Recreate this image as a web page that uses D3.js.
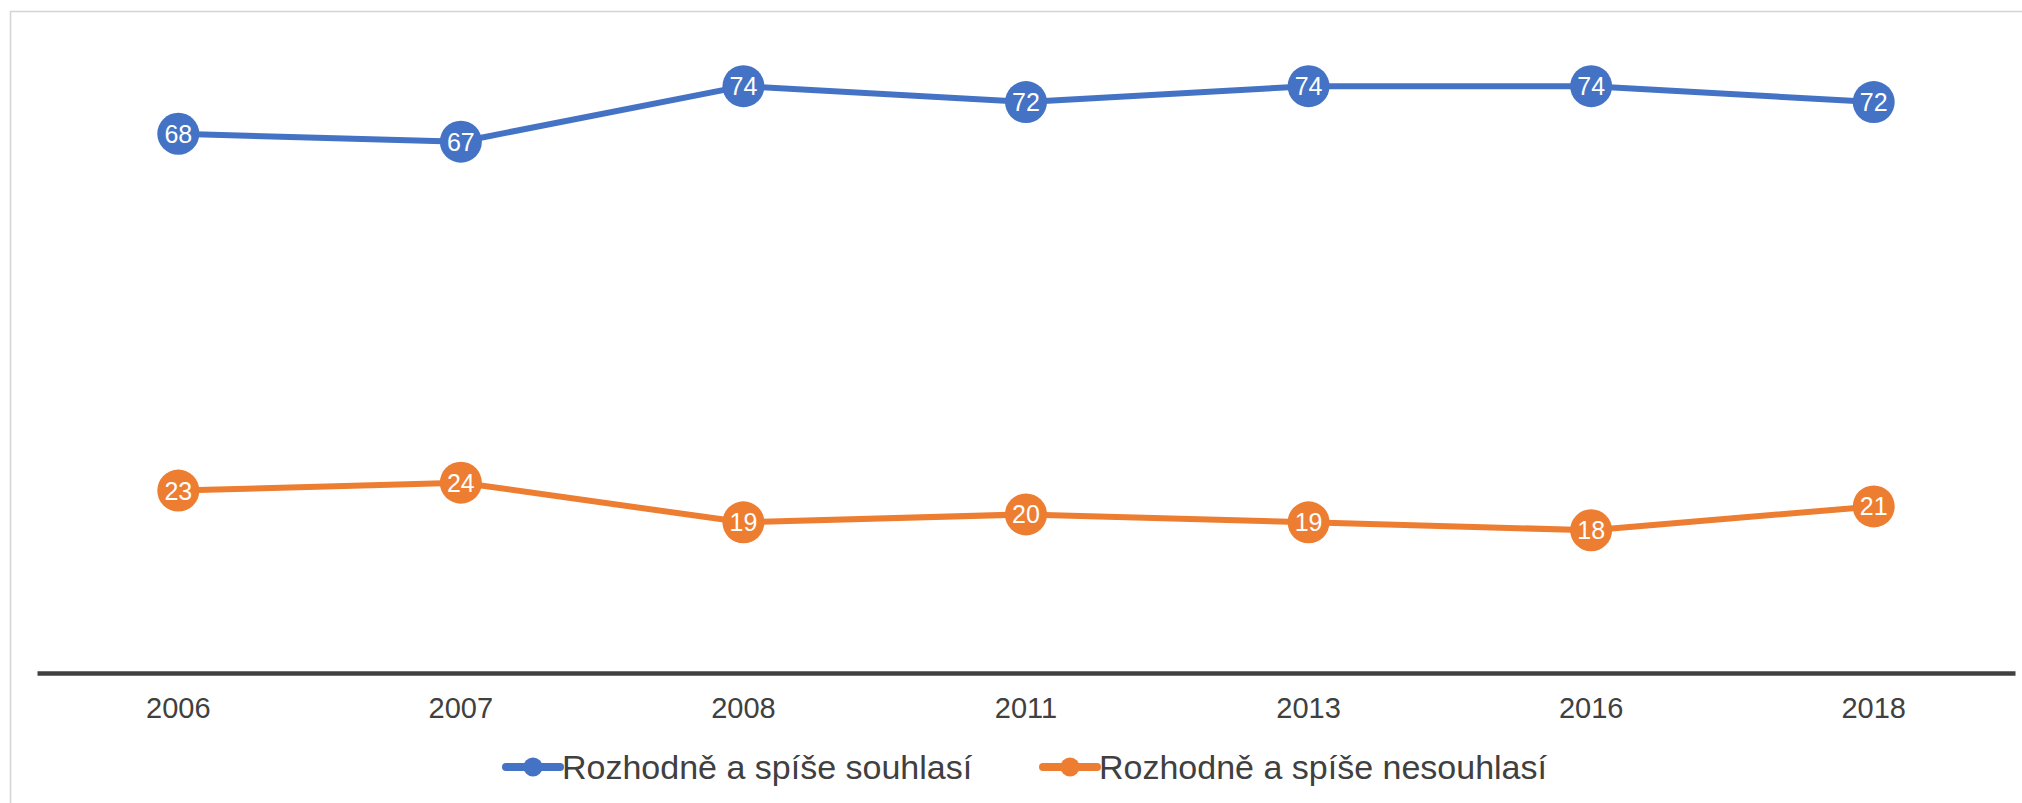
<!DOCTYPE html>
<html>
<head>
<meta charset="utf-8">
<script src="https://cdn.jsdelivr.net/npm/d3@7"></script>
<style>
  html, body { margin: 0; padding: 0; background: #fff; }
  svg { display: block; font-family: "Liberation Sans", Arial, sans-serif; }
</style>
</head>
<body>
<div id="chart"></div>
<script>
"use strict"

// data
const years = ["2006", "2007", "2008", "2011", "2013", "2016", "2018"];
const agree = [68, 67, 74, 72, 74, 74, 72];
const disagree = [23, 24, 19, 20, 19, 18, 21];
const seriesNames = ["Rozhodně a spíše souhlasí", "Rozhodně a spíše nesouhlasí"];
const seriesColors = ["#4472C4", "#ED7D31"];

//------------------------1. PREPARATION------------------------//
const width = 2022;
const height = 803;

const svg = d3.select("#chart").append("svg")
    .attr("width", width)
    .attr("height", height);

// frame (left + top edge only, like the crop)
svg.append("path")
    .attr("d", `M10.5,${height} V11.5 H${width}`)
    .attr("fill", "none")
    .attr("stroke", "#d4d4d4")
    .attr("stroke-width", 1.5);

//----------------------------SCALES----------------------------//
const xScale = d3.scaleBand().domain(years).range([37, 2015]);
const yScale = d3.scaleLinear().domain([0, 80]).range([673, 38.6]);
const xc = d => xScale(d) + xScale.bandwidth() / 2;

//-----------------------------AXES-----------------------------//
const xaxis = d3.axisBottom(xScale).tickSize(0).tickPadding(24);
const xaxisEl = svg.append("g")
    .attr("class", "axis xaxis")
    .attr("transform", `translate(0,${yScale(0)})`)
    .call(xaxis);
xaxisEl.select(".domain")
    .attr("stroke", "#404040")
    .attr("stroke-width", 4.5);
xaxisEl.selectAll("text")
    .attr("font-size", 29)
    .attr("font-family", "Liberation Sans, Arial, sans-serif")
    .attr("fill", "#404040");

//-------------------------2. DRAWING---------------------------//
const series = [agree, disagree];
const line = d3.line().x((d, i) => xc(years[i])).y(d => yScale(d));

series.forEach((vals, s) => {
    const g = svg.append("g").attr("class", "series s" + s);
    g.append("path")
        .attr("d", line(vals))
        .attr("fill", "none")
        .attr("stroke", seriesColors[s])
        .attr("stroke-width", 6)
        .attr("stroke-linejoin", "round");

    const pts = g.selectAll("g.pt").data(vals).join("g")
        .attr("class", "pt")
        .attr("transform", (d, i) => `translate(${xc(years[i])},${yScale(d)})`);
    pts.append("circle")
        .attr("r", 21)
        .attr("fill", seriesColors[s]);
    pts.append("text")
        .attr("text-anchor", "middle")
        .attr("dy", "0.36em")
        .attr("font-size", 25)
        .attr("fill", "#fff")
        .text(d => d);
});

// legend
const legendX = [506, 1043];
const legend = svg.append("g").attr("class", "legend");
seriesNames.forEach((name, s) => {
    const g = legend.append("g").attr("transform", `translate(${legendX[s]},767)`);
    g.append("line")
        .attr("x1", 0).attr("x2", 54)
        .attr("stroke", seriesColors[s])
        .attr("stroke-width", 8)
        .attr("stroke-linecap", "round");
    g.append("circle")
        .attr("cx", 27)
        .attr("r", 9.5)
        .attr("fill", seriesColors[s]);
    g.append("text")
        .attr("x", 56)
        .attr("dy", "0.36em")
        .attr("font-size", 34)
        .attr("fill", "#404040")
        .text(name);
});
</script>
</body>
</html>
